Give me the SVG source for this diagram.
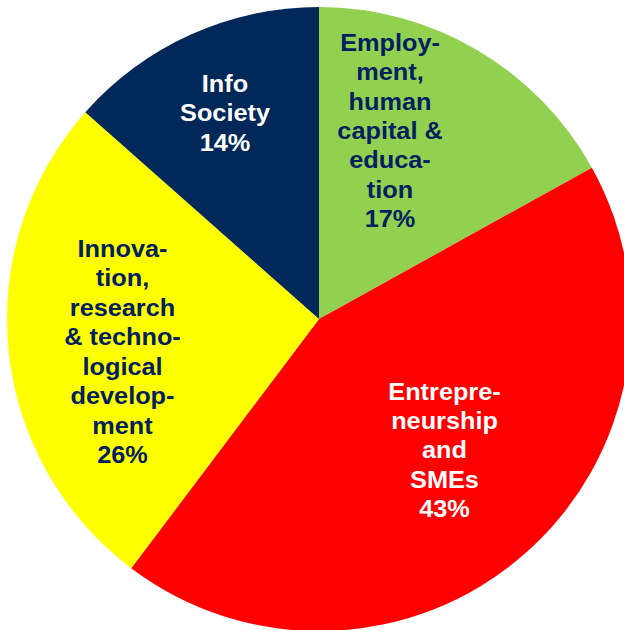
<svg xmlns="http://www.w3.org/2000/svg" width="624" height="630" viewBox="0 0 624 630">
<style>
.lbl{font-family:"Liberation Sans",Arial,sans-serif;font-weight:bold;font-size:23px;text-anchor:middle}
.dk{fill:#002060}
.wt{fill:#ffffff}
</style>
<rect width="624" height="630" fill="#ffffff"/>
<g id="slice-employment">
<path d="M319,319 L319,7 A312,312 0 0 1 591.9,167.7 Z" fill="#92D050"/>
</g>
<g id="slice-entrepreneurship">
<path d="M319,319 L591.9,167.7 A312,312 0 0 1 131.2,568.2 Z" fill="#FF0000"/>
</g>
<g id="slice-innovation">
<path d="M319,319 L131.2,568.2 A312,312 0 0 1 85.3,112.3 Z" fill="#FFFF00"/>
</g>
<g id="slice-info">
<path d="M319,319 L85.3,112.3 A312,312 0 0 1 319,7 Z" fill="#002858"/>
</g>
<g id="label-info" class="lbl wt" transform="translate(225,0) scale(1.1,1)">
<text x="0" y="92">Info</text>
<text x="0" y="121.5">Society</text>
<text x="0" y="151">14%</text>
</g>
<g id="label-employment" class="lbl dk" transform="translate(390,0) scale(1.1,1)">
<text x="0" y="51">Employ-</text>
<text x="0" y="80.5">ment,</text>
<text x="0" y="110">human</text>
<text x="0" y="139">capital &amp;</text>
<text x="0" y="168.5">educa-</text>
<text x="0" y="198">tion</text>
<text x="0" y="227">17%</text>
</g>
<g id="label-innovation" class="lbl dk" transform="translate(122.5,0) scale(1.1,1)">
<text x="0" y="257">Innova-</text>
<text x="0" y="286.5">tion,</text>
<text x="0" y="316">research</text>
<text x="0" y="345.5">&amp; techno-</text>
<text x="0" y="375">logical</text>
<text x="0" y="404.5">develop-</text>
<text x="0" y="434">ment</text>
<text x="0" y="463">26%</text>
</g>
<g id="label-entrepreneurship" class="lbl wt" transform="translate(444.5,0) scale(1.1,1)">
<text x="0" y="400">Entrepre-</text>
<text x="0" y="429">neurship</text>
<text x="0" y="458.5">and</text>
<text x="0" y="488">SMEs</text>
<text x="0" y="517">43%</text>
</g>
</svg>
